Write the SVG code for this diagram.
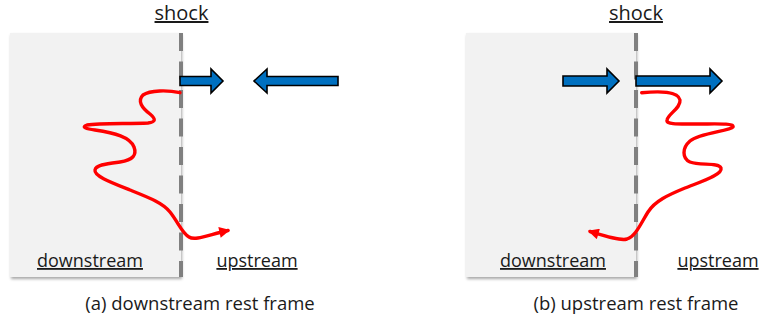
<svg xmlns="http://www.w3.org/2000/svg" width="759" height="322" viewBox="0 0 759 322">
<defs>
<filter id="sh" x="-10%" y="-10%" width="120%" height="120%">
<feGaussianBlur in="SourceAlpha" stdDeviation="1.5"/>
<feOffset dx="1" dy="1.5" result="b"/>
<feComponentTransfer><feFuncA type="linear" slope="0.35"/></feComponentTransfer>
<feMerge><feMergeNode/><feMergeNode in="SourceGraphic"/></feMerge>
</filter>
<marker id="ah" viewBox="0 0 10 10" refX="8" refY="5" markerWidth="3.6" markerHeight="3.2" markerUnits="strokeWidth" orient="auto">
<path d="M0,0 L10,5 L0,10 Z" fill="#ff0000"/>
</marker>
</defs>
<style>
.panel{fill:#f2f2f2}
.shock{stroke:#808080;stroke-width:4;stroke-dasharray:18 10.5;fill:none}
.barrow{fill:#0070c0;stroke:#000;stroke-width:1.6;stroke-linejoin:miter}
.path{fill:none;stroke:#ff0000;stroke-width:3.4;stroke-linecap:round;stroke-linejoin:round}
text{font-family:"Open Sans","Liberation Sans",sans-serif;fill:#1a1a1a}
.lbl{font-size:18px;text-decoration:underline}
.big{font-size:20px}
.cap{font-size:18.5px}
</style>

<g id="panel-a">
<rect class="panel" x="10" y="33" width="171" height="244" filter="url(#sh)"/>
<line class="shock" x1="181" y1="33" x2="181" y2="277"/>
<text class="lbl big" x="181.5" y="20" text-anchor="middle">shock</text>
<text class="lbl" x="90" y="267" text-anchor="middle">downstream</text>
<text class="lbl" x="257" y="267" text-anchor="middle">upstream</text>
<text class="cap" x="200" y="310" text-anchor="middle">(a) downstream rest frame</text>
</g>

<g id="panel-b">
<rect class="panel" x="466" y="33" width="170" height="244" filter="url(#sh)"/>
<line class="shock" x1="636" y1="33" x2="636" y2="277"/>
<text class="lbl big" x="636" y="20" text-anchor="middle">shock</text>
<text class="lbl" x="553" y="267" text-anchor="middle">downstream</text>
<text class="lbl" x="718" y="267" text-anchor="middle">upstream</text>
<text class="cap" x="636" y="310" text-anchor="middle">(b) upstream rest frame</text>
</g>

<g id="connectors">
<path class="barrow" d="M180,76.5 H211 V69 L223,81 L211,93 V85.5 H180 Z"/>
<path class="barrow" d="M338,76.5 H267 V69 L254,81 L267,93 V85.5 H338 Z"/>
<path class="barrow" d="M563,76 H607 V69 L619,81 L607,93 V86 H563 Z"/>
<path class="barrow" d="M636,76 H710 V69 L722,81 L710,93 V86 H636 Z"/>
<path class="path" marker-end="url(#ah)" d="M180,92.7 C168,90 150,90 143,95 C137,101 142,108 150,114 C156,119 156,122 148,123 C130,124 100,123 87,125 C81,127 86,129 95,130 C115,133 130,137 134,147 C137,155 133,160 120,162 C105,164 96,165 95,170 C94,176 110,182 130,190 C150,198 163,203 170,212 C178,222 182,233 189,237 C195,241 208,235 228,230.5"/>
<path class="path" marker-end="url(#ah)" d="M641.7,92.7 C660,91 678,91 680,100 C681,108 668,114 667,120 C666,125 680,124 700,124 C715,124 735,123 733,127 C730,131 700,133 690,141 C682,148 682,158 690,162 C700,166 718,162 721,168 C723,175 700,182 685,188 C668,195 655,201 648,212 C641,223 636,236 627,239 C620,241 605,236 590,231.5"/>
</g>
</svg>
